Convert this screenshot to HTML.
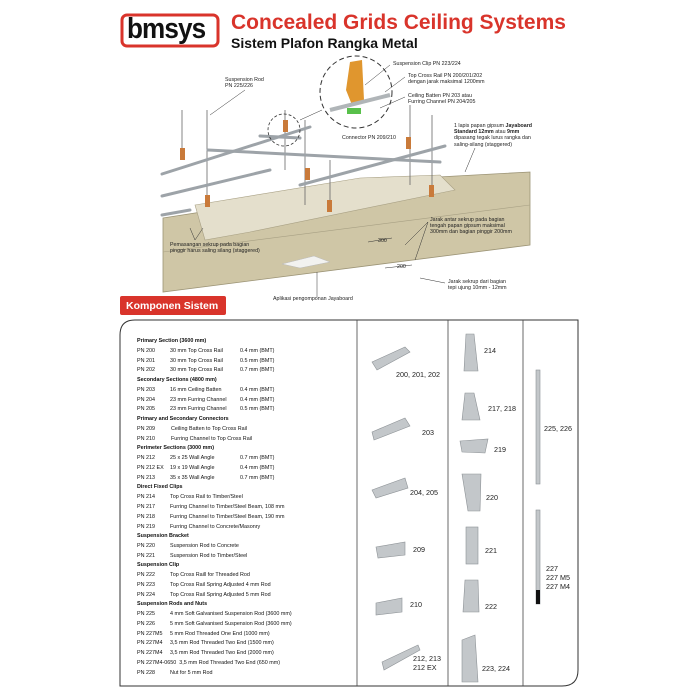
<!DOCTYPE html>
<html><head><meta charset="utf-8"><style>
body{margin:0;background:#fff;}
#c{position:relative;width:700px;height:700px;overflow:hidden;font-family:"Liberation Sans",sans-serif;}
.t{position:absolute;font-size:5.3px;color:#222;white-space:nowrap;line-height:6.2px;}
.r{position:absolute;font-size:5.4px;color:#111;white-space:nowrap;}
.b{font-weight:bold;}
.lbl{position:absolute;font-size:7.2px;color:#222;white-space:nowrap;line-height:9px;}
</style></head><body><div id="c">
<svg width="700" height="700" style="position:absolute;left:0;top:0">
<rect x="122" y="15" width="96" height="31" rx="5" fill="none" stroke="#d9342b" stroke-width="3"/>
<polygon points="163,218 420,178 530,172 530,245 163,292" fill="#cfc6a6" stroke="#9c9476" stroke-width="0.8"/>
<polygon points="195,205 360,178 440,175 455,190 250,232 205,240" fill="#e4dfcc" stroke="#a8a084" stroke-width="0.6"/>
<line x1="163" y1="252" x2="530" y2="205" stroke="#a8a084" stroke-width="0.6"/>
<polygon points="282,264 314,256 330,262 300,268" fill="#f2f2f0" stroke="#bbb" stroke-width="0.5"/>
<g stroke="#666" stroke-width="0.8">
<line x1="182" y1="110" x2="182" y2="160"/><line x1="207" y1="110" x2="207" y2="205"/>
<line x1="285" y1="110" x2="285" y2="170"/><line x1="305" y1="120" x2="305" y2="205"/>
<line x1="410" y1="105" x2="410" y2="185"/><line x1="432" y1="115" x2="432" y2="195"/>
<line x1="330" y1="160" x2="330" y2="205"/>
</g>
<g stroke="#9da3a8" stroke-width="3" stroke-linecap="round">
<line x1="162" y1="174" x2="310" y2="127"/>
<line x1="162" y1="196" x2="270" y2="170"/>
<line x1="300" y1="185" x2="445" y2="146"/>
<line x1="208" y1="150" x2="440" y2="162"/>
<line x1="260" y1="136" x2="300" y2="138"/>
<line x1="162" y1="215" x2="190" y2="210"/>
</g>
<g fill="#c97a3a">
<rect x="180" y="148" width="5" height="12"/><rect x="283" y="120" width="5" height="12"/>
<rect x="305" y="168" width="5" height="12"/><rect x="406" y="137" width="5" height="12"/>
<rect x="429" y="185" width="5" height="12"/><rect x="205" y="195" width="5" height="12"/>
<rect x="327" y="200" width="5" height="12"/>
</g>
<circle cx="284" cy="130" r="16" fill="none" stroke="#333" stroke-width="0.8" stroke-dasharray="3,2"/>
<circle cx="356" cy="92" r="36" fill="#fff" stroke="#333" stroke-width="1" stroke-dasharray="5,3"/>
<polygon points="350,62 362,60 364,100 352,105 346,90" fill="#e0962e"/>
<line x1="330" y1="110" x2="390" y2="95" stroke="#b0b5b8" stroke-width="4"/>
<rect x="347" y="108" width="14" height="6" fill="#58c04a"/>
<g stroke="#333" stroke-width="0.5">
<line x1="245" y1="90" x2="210" y2="115"/><line x1="300" y1="120" x2="322" y2="110"/>
<line x1="390" y1="65" x2="365" y2="85"/><line x1="405" y1="77" x2="385" y2="92"/>
<line x1="405" y1="97" x2="380" y2="108"/><line x1="475" y1="148" x2="465" y2="172"/>
<line x1="428" y1="222" x2="405" y2="245"/><line x1="428" y1="222" x2="415" y2="260"/>
<line x1="445" y1="283" x2="420" y2="278"/><line x1="317" y1="272" x2="317" y2="297"/>
<line x1="195" y1="240" x2="190" y2="228"/><line x1="195" y1="240" x2="203" y2="228"/>
<line x1="368" y1="242" x2="392" y2="238"/><line x1="385" y1="268" x2="412" y2="265"/>
</g>
<rect x="120" y="296" width="106" height="19" rx="2" fill="#d9342b"/>
<path d="M135,320 L578,320 L578,670 Q578,686 562,686 L120,686 L120,335 Q120,320 135,320 Z" fill="none" stroke="#333" stroke-width="1"/>
<g stroke="#444" stroke-width="0.8"><line x1="357" y1="320" x2="357" y2="686"/><line x1="448" y1="320" x2="448" y2="686"/><line x1="523" y1="320" x2="523" y2="686"/></g>
<g fill="#c3c7ca" stroke="#8d9296" stroke-width="0.6">
<polygon points="372,362 405,347 410,352 377,370"/>
<polygon points="372,432 405,418 410,426 374,440"/>
<polygon points="372,490 405,478 408,488 376,498"/>
<polygon points="376,547 405,542 405,555 378,558"/>
<polygon points="376,603 402,598 402,612 376,615"/>
<polygon points="382,662 418,645 420,650 384,670"/>
<polygon points="466,334 474,334 478,371 464,371"/>
<polygon points="465,393 474,393 480,420 462,420"/>
<polygon points="460,441 488,439 485,453 462,452"/>
<polygon points="462,474 481,474 480,511 468,511"/>
<rect x="466" y="527" width="12" height="37"/>
<polygon points="465,580 478,580 479,612 463,612"/>
<polygon points="462,640 475,635 478,682 462,682"/>
<rect x="536" y="370" width="4" height="114"/>
<rect x="536" y="510" width="4" height="94"/>
</g>
<rect x="536" y="590" width="4" height="14" fill="#111"/>
</svg>
<div style="position:absolute;left:127px;top:13px;font-size:29px;font-weight:bold;color:#111;letter-spacing:-1px;transform:scaleX(0.9);transform-origin:left top">bmsys</div>
<div style="position:absolute;left:231px;top:11px;font-size:21px;font-weight:bold;color:#d9342b;white-space:nowrap">Concealed Grids Ceiling Systems</div>
<div style="position:absolute;left:231px;top:35px;font-size:14px;font-weight:bold;color:#111;white-space:nowrap">Sistem Plafon Rangka Metal</div>

<div class="t" style="left:225px;top:77px">Suspension Rod<br>PN 225/226</div>
<div class="t" style="left:393px;top:61px">Suspension Clip PN 223/224</div>
<div class="t" style="left:408px;top:73px">Top Cross Rail PN 200/201/202<br>dengan jarak maksimal 1200mm</div>
<div class="t" style="left:408px;top:93px">Ceiling Batten PN 203 atau<br>Furring Channel PN 204/205</div>
<div class="t" style="left:342px;top:135px">Connector PN 209/210</div>
<div class="t" style="left:454px;top:123px">1 lapis papan gipsum <b>Jayaboard</b><br><b>Standard 12mm</b> atau <b>9mm</b><br>dipasang tegak lurus rangka dan<br>saling-silang (staggered)</div>
<div class="t" style="left:430px;top:217px">Jarak antar sekrup pada bagian<br>tengah papan gipsum maksimal<br>300mm dan bagian pinggir 200mm</div>
<div class="t" style="left:170px;top:242px">Pemasangan sekrup pada bagian<br>pinggir harus saling silang (staggered)</div>
<div class="t" style="left:378px;top:238px">300</div>
<div class="t" style="left:397px;top:264px">200</div>
<div class="t" style="left:448px;top:279px">Jarak sekrup dari bagian<br>tepi ujung 10mm - 12mm</div>
<div class="t" style="left:273px;top:296px">Aplikasi pengomponan Jayaboard</div>
<div style="position:absolute;left:126px;top:300px;font-size:10.5px;font-weight:bold;color:#fff">Komponen Sistem</div>

<div class="r b" style="left:137px;top:338px">Primary Section (3600 mm)</div>
<div class="r" style="left:137px;top:348px">PN 200</div><div class="r" style="left:170px;top:348px">30 mm Top Cross Rail</div><div class="r" style="left:240px;top:348px">0.4 mm (BMT)</div>
<div class="r" style="left:137px;top:358px">PN 201</div><div class="r" style="left:170px;top:358px">30 mm Top Cross Rail</div><div class="r" style="left:240px;top:358px">0.5 mm (BMT)</div>
<div class="r" style="left:137px;top:367px">PN 202</div><div class="r" style="left:170px;top:367px">30 mm Top Cross Rail</div><div class="r" style="left:240px;top:367px">0.7 mm (BMT)</div>
<div class="r b" style="left:137px;top:377px">Secondary Sections (4800 mm)</div>
<div class="r" style="left:137px;top:387px">PN 203</div><div class="r" style="left:170px;top:387px">16 mm Ceiling Batten</div><div class="r" style="left:240px;top:387px">0.4 mm (BMT)</div>
<div class="r" style="left:137px;top:397px">PN 204</div><div class="r" style="left:170px;top:397px">23 mm Furring Channel</div><div class="r" style="left:240px;top:397px">0.4 mm (BMT)</div>
<div class="r" style="left:137px;top:406px">PN 205</div><div class="r" style="left:170px;top:406px">23 mm Furring Channel</div><div class="r" style="left:240px;top:406px">0.5 mm (BMT)</div>
<div class="r b" style="left:137px;top:416px">Primary and Secondary Connectors</div>
<div class="r" style="left:137px;top:426px">PN 209</div><div class="r" style="left:171px;top:426px">Ceiling Batten to Top Cross Rail</div>
<div class="r" style="left:137px;top:436px">PN 210</div><div class="r" style="left:171px;top:436px">Furring Channel to Top Cross Rail</div>
<div class="r b" style="left:137px;top:445px">Perimeter Sections (3000 mm)</div>
<div class="r" style="left:137px;top:455px">PN 212</div><div class="r" style="left:170px;top:455px">25 x 25 Wall Angle</div><div class="r" style="left:240px;top:455px">0.7 mm (BMT)</div>
<div class="r" style="left:137px;top:465px">PN 212 EX</div><div class="r" style="left:170px;top:465px">19 x 19 Wall Angle</div><div class="r" style="left:240px;top:465px">0.4 mm (BMT)</div>
<div class="r" style="left:137px;top:475px">PN 213</div><div class="r" style="left:170px;top:475px">35 x 35 Wall Angle</div><div class="r" style="left:240px;top:475px">0.7 mm (BMT)</div>
<div class="r b" style="left:137px;top:484px">Direct Fixed Clips</div>
<div class="r" style="left:137px;top:494px">PN 214</div><div class="r" style="left:170px;top:494px">Top Cross Rail to Timber/Steel</div>
<div class="r" style="left:137px;top:504px">PN 217</div><div class="r" style="left:170px;top:504px">Furring Channel to Timber/Steel Beam, 108 mm</div>
<div class="r" style="left:137px;top:514px">PN 218</div><div class="r" style="left:170px;top:514px">Furring Channel to Timber/Steel Beam, 190 mm</div>
<div class="r" style="left:137px;top:524px">PN 219</div><div class="r" style="left:170px;top:524px">Furring Channel to Concrete/Masonry</div>
<div class="r b" style="left:137px;top:533px">Suspension Bracket</div>
<div class="r" style="left:137px;top:543px">PN 220</div><div class="r" style="left:170px;top:543px">Suspension Rod to Concrete</div>
<div class="r" style="left:137px;top:553px">PN 221</div><div class="r" style="left:170px;top:553px">Suspension Rod to Timber/Steel</div>
<div class="r b" style="left:137px;top:562px">Suspension Clip</div>
<div class="r" style="left:137px;top:572px">PN 222</div><div class="r" style="left:170px;top:572px">Top Cross Raill for Threaded Rod</div>
<div class="r" style="left:137px;top:582px">PN 223</div><div class="r" style="left:170px;top:582px">Top Cross Rail Spring Adjusted 4 mm Rod</div>
<div class="r" style="left:137px;top:592px">PN 224</div><div class="r" style="left:170px;top:592px">Top Cross Rail Spring Adjusted 5 mm Rod</div>
<div class="r b" style="left:137px;top:601px">Suspension Rods and Nuts</div>
<div class="r" style="left:137px;top:611px">PN 225</div><div class="r" style="left:170px;top:611px">4 mm Soft Galvanised Suspension Rod (3600 mm)</div>
<div class="r" style="left:137px;top:621px">PN 226</div><div class="r" style="left:170px;top:621px">5 mm Soft Galvanised Suspension Rod (3600 mm)</div>
<div class="r" style="left:137px;top:631px">PN 227M5</div><div class="r" style="left:170px;top:631px">5 mm Rod Threaded One End (1000 mm)</div>
<div class="r" style="left:137px;top:640px">PN 227M4</div><div class="r" style="left:170px;top:640px">3,5 mm Rod Threaded Two End (1500 mm)</div>
<div class="r" style="left:137px;top:650px">PN 227M4</div><div class="r" style="left:170px;top:650px">3,5 mm Rod Threaded Two End (2000 mm)</div>
<div class="r" style="left:137px;top:660px">PN 227M4-0650&nbsp; 3,5 mm Rod Threaded Two End (650 mm)</div>
<div class="r" style="left:137px;top:670px">PN 228</div><div class="r" style="left:170px;top:670px">Nut for 5 mm Rod</div>

<div class="lbl" style="left:396px;top:370px">200, 201, 202</div>
<div class="lbl" style="left:422px;top:428px">203</div>
<div class="lbl" style="left:410px;top:488px">204, 205</div>
<div class="lbl" style="left:413px;top:545px">209</div>
<div class="lbl" style="left:410px;top:600px">210</div>
<div class="lbl" style="left:413px;top:654px">212, 213<br>212 EX</div>
<div class="lbl" style="left:484px;top:346px">214</div>
<div class="lbl" style="left:488px;top:404px">217, 218</div>
<div class="lbl" style="left:494px;top:445px">219</div>
<div class="lbl" style="left:486px;top:493px">220</div>
<div class="lbl" style="left:485px;top:546px">221</div>
<div class="lbl" style="left:485px;top:602px">222</div>
<div class="lbl" style="left:482px;top:664px">223, 224</div>
<div class="lbl" style="left:544px;top:424px">225, 226</div>
<div class="lbl" style="left:546px;top:564px">227<br>227 M5<br>227 M4</div>
</div></body></html>
